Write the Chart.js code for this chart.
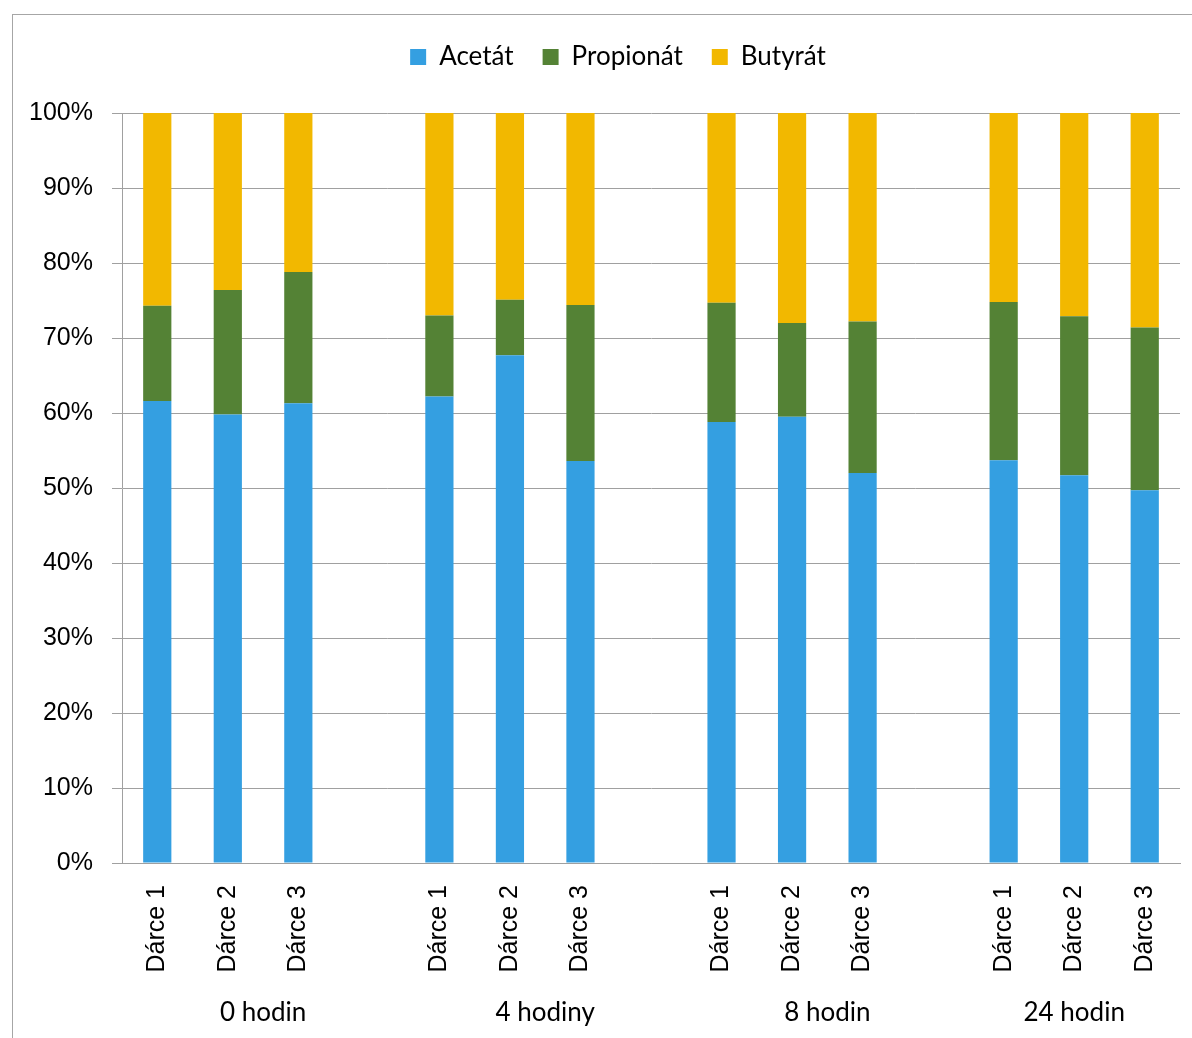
<!DOCTYPE html>
<html>
<head>
<meta charset="utf-8">
<script src="https://cdn.jsdelivr.net/npm/chart.js@4.4.1/dist/chart.umd.min.js"></script>
<style>
  html, body { margin: 0; padding: 0; background: #fff; overflow: hidden; }
  #wrap { position: relative; width: 1192px; height: 1038px; }
  #frame { position: absolute; left: 12px; top: 14px; width: 1300px; height: 1200px;
           border-left: 1px solid #a6a6a6; border-top: 1px solid #a6a6a6; pointer-events: none; }
</style>
</head>
<body>
<div id="wrap">
  <canvas id="myChart" width="1192" height="1038"></canvas>
  <div id="frame"></div>
</div>
<script>
// donors per time point, blank slot separates the groups
var donors = ['Dárce 1', 'Dárce 2', 'Dárce 3', '',
              'Dárce 1', 'Dárce 2', 'Dárce 3', '',
              'Dárce 1', 'Dárce 2', 'Dárce 3', '',
              'Dárce 1', 'Dárce 2', 'Dárce 3'];
var groups = ['0 hodin', '4 hodiny', '8 hodin', '24 hodin'];
var groupStart = [0, 4, 8, 12];
var groupEnd = [3, 7, 11, 14];

var acetat    = [61.6, 59.8, 61.3, null, 62.2, 67.7, 53.6, null, 58.8, 59.5, 52.0, null, 53.7, 51.7, 49.7];
var propionat = [12.7, 16.6, 17.5, null, 10.8, 7.4, 20.8, null, 15.9, 12.5, 20.2, null, 21.1, 21.2, 21.7];
var butyrat   = [25.7, 23.6, 21.2, null, 27.0, 24.9, 25.6, null, 25.3, 28.0, 27.8, null, 25.2, 27.1, 28.6];

var yTicks = [0, 10, 20, 30, 40, 50, 60, 70, 80, 90, 100];

var gray = '#a0a0a0';

// second row of category labels (time points)
var groupLabels = {
  id: 'groupLabels',
  afterDraw: function(chart) {
    var x = chart.scales.x;
    var c = chart.ctx;
    var slot = x.getPixelForValue(1) - x.getPixelForValue(0);
    c.save();
    c.font = '26px Lato';
    c.fillStyle = '#000';
    c.textAlign = 'center';
    c.textBaseline = 'middle';
    for (var i = 0; i < groups.length; i++) {
      var l = x.getPixelForValue(groupStart[i]) - slot / 2;
      var r = x.getPixelForValue(groupEnd[i]) + slot / 2;
      c.fillText(groups[i], (l + r) / 2, 1013);
    }
    c.restore();
  }
};

// extra room under the legend, and shift it a bit right
var legendGap = {
  id: 'legendGap',
  beforeLayout: function(chart) {
    var lg = chart.legend;
    if (lg && !lg._gap) {
      var f = lg.fit;
      lg.fit = function() { f.call(this); this.height += 33; };
      lg._gap = true;
    }
  },
  afterLayout: function(chart) {
    chart.legend.left += 28;
    chart.legend.right += 28;
  }
};

var ctx = document.getElementById('myChart').getContext('2d');
var barChart = new Chart(ctx, {
  type: 'bar',
  data: {
    labels: donors,
    datasets: [{
      label: 'Acetát',
      data: acetat,
      backgroundColor: '#349fe1'
    }, {
      label: 'Propionát',
      data: propionat,
      backgroundColor: '#548235'
    }, {
      label: 'Butyrát',
      data: butyrat,
      backgroundColor: '#f2b800'
    }]
  },
  plugins: [groupLabels, legendGap],
  options: {
    responsive: false,
    animation: false,
    layout: { padding: { top: 15, right: 12, bottom: 0, left: 0 } },
    datasets: { bar: { categoryPercentage: 1, barPercentage: 0.4 } },
    plugins: {
      tooltip: { enabled: false },
      legend: {
        position: 'top',
        labels: {
          boxWidth: 16, boxHeight: 16, padding: 29,
          color: '#000',
          font: { family: 'Lato', size: 26 }
        }
      }
    },
    scales: {
      x: {
        stacked: true,
        grid: { display: false, drawTicks: false },
        border: { display: true, color: gray },
        ticks: {
          autoSkip: false, minRotation: 90, maxRotation: 90, padding: 22,
          color: '#000',
          font: { family: 'Liberation Sans', size: 25 }
        },
        afterFit: function(s) {
          s.height = 175;
          s.paddingLeft = 0;
          s.paddingRight = 0;
        }
      },
      y: {
        stacked: true,
        min: 0, max: 100,
        grid: { color: gray, tickLength: 10, drawTicks: true },
        border: { display: true, color: gray },
        afterBuildTicks: function(s) { s.ticks = yTicks.map(function(v) { return { value: v }; }); },
        ticks: {
          padding: 19,
          color: '#000',
          font: { family: 'Liberation Sans', size: 25 },
          callback: function(v) { return v + '%'; }
        },
        afterFit: function(s) { s.width = 122; }
      }
    }
  }
});
</script>
</body>
</html>
